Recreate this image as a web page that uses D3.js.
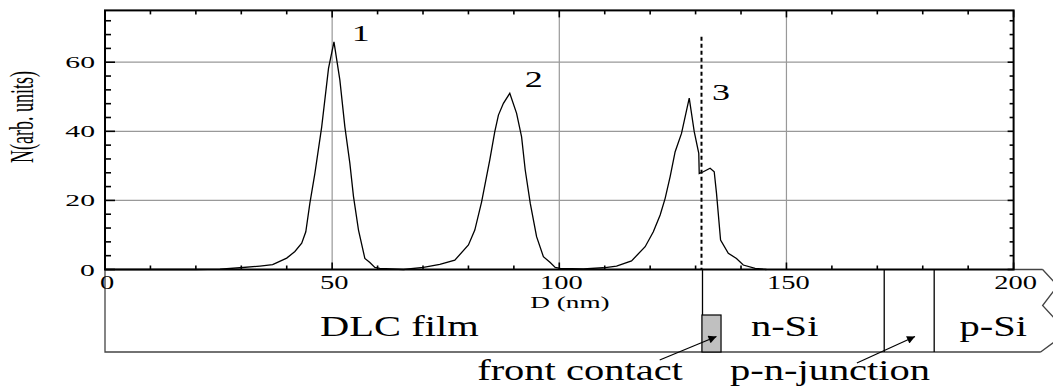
<!DOCTYPE html>
<html>
<head>
<meta charset="utf-8">
<script src="https://cdn.jsdelivr.net/npm/d3@7"></script>
<style>
  body { margin: 0; background: #fff; }
  text { font-family: "Liberation Serif", "Times New Roman", serif; fill: #000; }
</style>
</head>
<body>
<div id="vis"></div>
<script>
// depth profile
const depth = [0, 20, 25.3, 29.7, 34.1, 36.9, 40.0, 41.8, 43.3, 44.2, 45.1, 46.2, 47.7, 49.2, 50.4,
    51.7, 52.8, 53.9, 54.7, 55.8, 57.2, 58.3, 59.4, 60.5, 65.7, 70.1, 73.7, 77.0, 80.0, 81.4,
    82.9, 84.7, 85.8, 86.6, 87.7, 89.1, 90.6, 91.7, 92.5, 93.6, 95.0, 96.5, 98.0, 99.1, 100.2,
    105.3, 109.7, 112.6, 115.9, 118.9, 120.7, 122.2, 123.3, 124.4, 125.5, 126.9, 128.6, 129.7,
    130.7, 130.8, 131.7, 133.2, 134.1, 134.6, 135.5, 137.2, 139.0, 140.5, 143.1, 145.6];
const counts = [0, 0, 0.1, 0.5, 1.0, 1.4, 3.3, 5.2, 7.6, 10.9, 19.2, 27.8, 41.3, 58.2, 65.9,
    54.8, 41.3, 30.7, 21.1, 11.4, 3.2, 2.0, 0.6, 0.3, 0, 0.6, 1.5, 2.7, 7.1, 11.4,
    19.6, 31.7, 39.9, 44.7, 48.1, 51.0, 45.2, 38.4, 28.8, 19.2, 9.5, 3.7, 2.0, 0.6, 0.3,
    0.2, 0.5, 1.0, 2.5, 6.6, 10.9, 15.8, 20.6, 26.9, 34.1, 39.4, 49.6, 39.9,
    33.6, 27.8, 28.3, 29.3, 28.3, 22.1, 8.5, 4.7, 3.2, 1.3, 0.3, 0];

const xTicks = [0, 50, 100, 150, 200];
const yTicks = [0, 20, 40, 60];
const peakLabels = ['1', '2', '3'];
const peakPos = [[56.3, 66.1], [94.4, 52.8], [135.6, 49.1]];

// layer structure below the axis (nm)
const interfaceD = 131.3;
const junction = [171.3, 182.3];
const contact = [131.4, 135.6];
const layerNames = ['DLC film', 'n-Si', 'p-Si'];
const layerCenters = [64.8, 149.6, 195.5];

const width = 1053;
const height = 389;
const m = { top: 10.4, right: 39.4, bottom: 119.5, left: 105 };
const boxBottom = 352;

const svg = d3.select('#vis').append('svg')
    .attr('width', width)
    .attr('height', height);

const x = d3.scaleLinear().domain([0, 200]).range([m.left, width - m.right]);
const y = d3.scaleLinear().domain([0, 75]).range([height - m.bottom, m.top]);

function label(txt, px, py, size, sx, anchor) {
    return svg.append('text')
        .attr('transform', `translate(${px},${py}) scale(${sx},1)`)
        .attr('text-anchor', anchor || 'middle')
        .attr('font-size', size)
        .text(txt);
}

// grid
svg.append('g')
    .selectAll('line')
    .data([50, 100, 150])
    .join('line')
    .attr('x1', d => x(d)).attr('x2', d => x(d))
    .attr('y1', y(75)).attr('y2', y(0))
    .attr('stroke', '#999').attr('stroke-width', 1.2);
svg.append('g')
    .selectAll('line')
    .data([20, 40, 60])
    .join('line')
    .attr('x1', x(0)).attr('x2', x(200))
    .attr('y1', d => y(d)).attr('y2', d => y(d))
    .attr('stroke', '#999').attr('stroke-width', 1.2);

// layer box under the plot
const tear = `M${x(200) + 29},${y(0)} L${x(200) + 42},${y(0) + 14} M${x(200) + 42},${y(0) + 19} L${x(200) + 29},${y(0) + 36} L${x(200) + 42},${y(0) + 50} M${x(200) + 42},${boxBottom - 11} L${x(200) + 27},${boxBottom}`;
svg.append('path')
    .attr('d', `M${x(200)},${y(0)} H${x(200) + 29} ${tear} M${x(200) + 27},${boxBottom} H${x(0)} V${y(0)}`)
    .attr('fill', 'none')
    .attr('stroke', '#444')
    .attr('stroke-width', 1.3);
svg.append('g')
    .selectAll('line')
    .data([interfaceD, ...junction])
    .join('line')
    .attr('x1', d => x(d) + 1).attr('x2', d => x(d) + 1)
    .attr('y1', y(0)).attr('y2', boxBottom)
    .attr('stroke', '#000').attr('stroke-width', 1.3);
svg.append('rect')
    .attr('x', x(contact[0]))
    .attr('y', boxBottom - 37)
    .attr('width', x(contact[1]) - x(contact[0]))
    .attr('height', 37)
    .attr('fill', '#c0c0c0')
    .attr('stroke', '#000')
    .attr('stroke-width', 1.2);

// axes frame
const frame = svg.append('g').attr('fill', 'none').attr('stroke', '#000');
frame.append('rect')
    .attr('x', x(0)).attr('y', y(75))
    .attr('width', x(200) - x(0)).attr('height', y(0) - y(75))
    .attr('stroke-width', 2);

const xMinor = d3.range(0, 201, 10);
const yMinor = d3.range(0, 76, 4);
const xT = svg.append('g').attr('stroke', '#000').attr('stroke-width', 1.6);
xT.selectAll('line.b')
    .data(xMinor)
    .join('line')
    .attr('class', 'b')
    .attr('x1', d => x(d)).attr('x2', d => x(d))
    .attr('y1', y(0)).attr('y2', d => y(0) - (d % 50 === 0 ? 7 : 4));
xT.selectAll('line.t')
    .data(xMinor)
    .join('line')
    .attr('class', 't')
    .attr('x1', d => x(d)).attr('x2', d => x(d))
    .attr('y1', y(75)).attr('y2', d => y(75) + (d % 50 === 0 ? 7 : 4));
xT.selectAll('line.l')
    .data(yMinor)
    .join('line')
    .attr('class', 'l')
    .attr('x1', x(0)).attr('x2', d => x(0) + (d % 20 === 0 ? 10 : 6))
    .attr('y1', d => y(d)).attr('y2', d => y(d));
xT.selectAll('line.r')
    .data(yMinor)
    .join('line')
    .attr('class', 'r')
    .attr('x1', x(200)).attr('x2', d => x(200) - (d % 20 === 0 ? 6 : 4))
    .attr('y1', d => y(d)).attr('y2', d => y(d));

// tick labels
xTicks.forEach(t => label(t, x(t) + 2, 289, 19, 1.5));
yTicks.forEach(t => label(t, 95, y(t) + 6, 17.5, 1.7, 'end'));

label('D (nm)', 570, 308, 17, 1.6);
svg.append('text')
    .attr('transform', 'translate(33,117) scale(1.85,1) rotate(-90)')
    .attr('text-anchor', 'middle')
    .attr('font-size', 18)
    .text('N(arb. units)');

// the profile
const pts = depth.map((d, i) => [x(d), y(counts[i])]);
svg.append('path')
    .attr('d', d3.line()(pts))
    .attr('fill', 'none')
    .attr('stroke', '#000')
    .attr('stroke-width', 1.3);

// interface marker
svg.append('line')
    .attr('x1', x(interfaceD)).attr('x2', x(interfaceD))
    .attr('y1', y(67.4)).attr('y2', y(0))
    .attr('stroke', '#000')
    .attr('stroke-width', 2)
    .attr('stroke-dasharray', '4,3');

peakLabels.forEach((p, i) => label(p, x(peakPos[i][0]), y(peakPos[i][1]), 24, 1.5));

// layer names and annotations
layerNames.forEach((n, i) => label(n, x(layerCenters[i]), 336, 30, 1.35));
label('front contact', 580, 380, 30, 1.35);
label('p-n-junction', 830, 380, 30, 1.35);

svg.append('defs').append('marker')
    .attr('id', 'head')
    .attr('viewBox', '0 0 10 10')
    .attr('refX', 10).attr('refY', 5)
    .attr('markerWidth', 14).attr('markerHeight', 8)
    .attr('markerUnits', 'userSpaceOnUse')
    .attr('orient', 'auto')
    .append('path')
    .attr('d', 'M0,0 L10,5 L0,10 Z')
    .attr('fill', '#000');

const arrows = [[122.1, 360, 134.6, 336.5], [165.5, 363, 178.3, 336.5]];
svg.append('g')
    .selectAll('line')
    .data(arrows)
    .join('line')
    .attr('x1', d => x(d[0])).attr('y1', d => d[1])
    .attr('x2', d => x(d[2])).attr('y2', d => d[3])
    .attr('stroke', '#000')
    .attr('stroke-width', 1.2)
    .attr('marker-end', 'url(#head)');
</script>
</body>
</html>
